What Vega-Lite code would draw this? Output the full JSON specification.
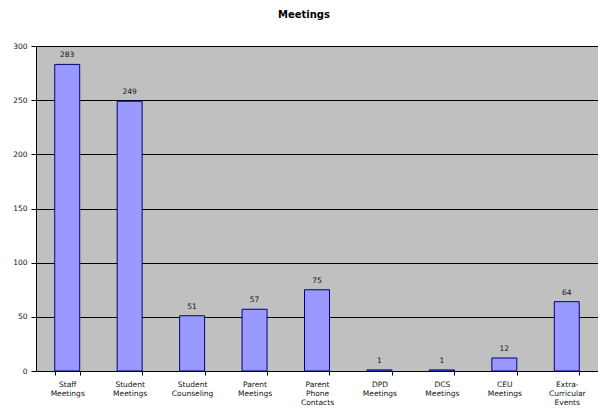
{
  "$schema": "https://vega.github.io/schema/vega-lite/v6.json",
  "autosize": "none",
  "width": 562,
  "height": 325,
  "padding": {"left": 36, "top": 46, "right": 0, "bottom": 43},
  "background": "white",
  "title": {"text": "Meetings", "fontSize": 10, "fontWeight": "bold", "font": "DejaVu Sans", "color": "#000000", "offset": 22, "dx": -13},
  "config": {"view": {"fill": "#c0c0c0", "stroke": "#808080"}},
  "data": {"values": [
    {"category": "Staff Meetings", "count": 283},
    {"category": "Student Meetings", "count": 249},
    {"category": "Student Counseling", "count": 51},
    {"category": "Parent Meetings", "count": 57},
    {"category": "Parent Phone Contacts", "count": 75},
    {"category": "DPD Meetings", "count": 1},
    {"category": "DCS Meetings", "count": 1},
    {"category": "CEU Meetings", "count": 12},
    {"category": "Extra-Curricular Events", "count": 64}
  ]},
  "encoding": {
    "x": {"field": "category", "type": "nominal", "sort": null,
      "scale": {"paddingInner": 0.6, "paddingOuter": 0.3},
      "axis": {"title": null, "labelAngle": 0, "labelFontSize": 7.5, "labelFont": "DejaVu Sans", "labelColor": "#111111",
        "labelExpr": "isValid(datum.value) ? split(replace(datum.value, '-', '- '), ' ') : ''", "labelLineHeight": 9, "labelPadding": 5,
        "tickBand": "extent", "tickColor": "#000000", "tickSize": 4, "domainColor": "#000000", "labelBaseline": "top"}},
    "y": {"field": "count", "type": "quantitative", "scale": {"domain": [0, 300]},
      "axis": {"title": null, "values": [0, 50, 100, 150, 200, 250, 300], "labelFontSize": 7.5, "labelFont": "DejaVu Sans", "labelColor": "#111111",
        "gridColor": "#000000", "gridOpacity": 1, "gridWidth": 1, "tickColor": "#000000", "tickSize": 5, "domainColor": "#000000", "labelPadding": 4}}
  },
  "layer": [
    {"mark": {"type": "bar", "fill": "#9999ff", "stroke": "#000080", "strokeWidth": 1}},
    {"mark": {"type": "text", "dy": -5, "fontSize": 7.5, "font": "DejaVu Sans", "color": "#111111", "baseline": "bottom"},
      "encoding": {"text": {"field": "count", "type": "quantitative"}}}
  ]
}
